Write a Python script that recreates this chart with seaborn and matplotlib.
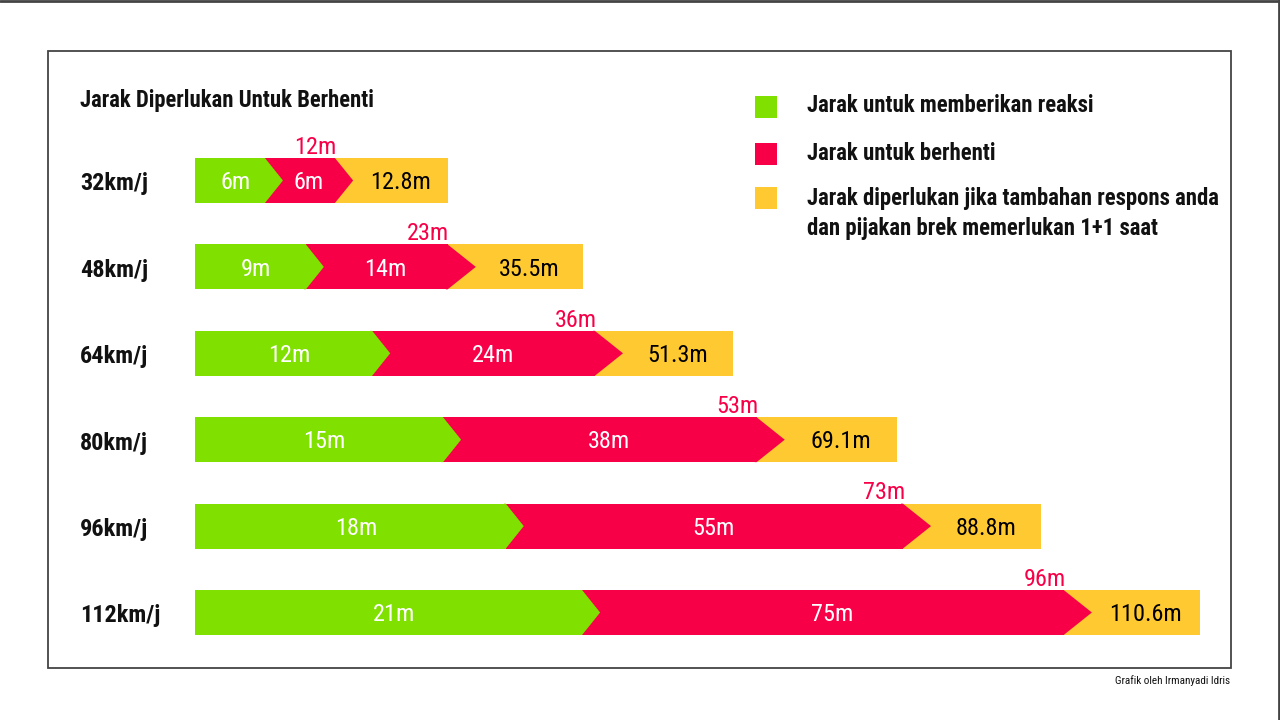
import matplotlib
matplotlib.use("Agg")
import matplotlib.pyplot as plt
import seaborn as sns
from matplotlib import font_manager
from matplotlib.patches import Rectangle
from matplotlib.lines import Line2D
from matplotlib.transforms import blended_transform_factory

# Data
speeds = ['32km/j', '48km/j', '64km/j', '80km/j', '96km/j', '112km/j']
reaction_m = [6, 9, 12, 15, 18, 21]
braking_m = [6, 14, 24, 38, 55, 75]
total_m = [12.8, 35.5, 51.3, 69.1, 88.8, 110.6]

# drawn segment lengths (the graphic is not drawn to scale)
green_len = [7.7, 12.2, 19.5, 27.3, 34.2, 42.6]
red_len = [7.7, 15.6, 24.5, 34.5, 43.7, 53.0]
yellow_len = [12.4, 14.9, 15.2, 15.5, 15.2, 15.0]

legend_labels = ['Jarak untuk memberikan reaksi',
                 'Jarak untuk berhenti',
                 'Jarak diperlukan jika tambahan respons anda',
                 'dan pijakan brek memerlukan 1+1 saat']

GREEN = '#80e000'
RED = '#f70048'
YELLOW = '#ffc932'

sns.set_style("white")
names = {f.name for f in font_manager.fontManager.ttflist}
font = 'DejaVu Sans'
for cand in ['Roboto Condensed', 'Liberation Sans Narrow', 'Open Sans Condensed']:
    if cand in names:
        font = cand
        break
plt.rcParams['font.family'] = [font, 'DejaVu Sans']

W, H = 1280, 720
fig = plt.figure(figsize=(12.8, 7.2), dpi=100, facecolor='white')
ax = fig.add_axes([195 / W, 1 - 655.7 / H, 1005 / W, (655.7 - 137.3) / H])

# cumulative ends of each segment
g_end = green_len
r_end = [g + r for g, r in zip(green_len, red_len)]
y_end = [r + y for r, y in zip(r_end, yellow_len)]

bar_h = 0.52
for ends, col in [(y_end, YELLOW), (r_end, RED), (g_end, GREEN)]:
    sns.barplot(x=ends, y=speeds, orient='h', color=col, saturation=1,
                width=bar_h, linewidth=0, ax=ax)

ax.set_xlim(0, max(y_end))
ax.set_ylim(len(speeds) - 0.5, -0.5)
ax.axis('off')

half = bar_h / 2
for i in range(len(speeds)):
    tg = 1.98
    tr = min(3.1, 0.26 * red_len[i])
    g, r, e = g_end[i], r_end[i], y_end[i]
    # arrow tips (start slightly inside the bar to avoid a seam)
    ax.fill([g - 0.2, g, g + tg, g, g - 0.2],
            [i - half, i - half, i, i + half, i + half], color=GREEN, lw=0)
    ax.fill([r - 0.2, r, r + tr, r, r - 0.2],
            [i - half, i - half, i, i + half, i + half], color=RED, lw=0)

    ty = i + 0.025
    ax.text(g / 2 + 0.6, ty, f'{reaction_m[i]}m', color='white',
            ha='center', va='center', fontsize=17.5)
    ax.text((g + r) / 2 + tg / 2, ty, f'{braking_m[i]}m', color='white',
            ha='center', va='center', fontsize=17.5)
    ax.text((r + e) / 2 + tr / 2, ty, f'{total_m[i]}m', color='black',
            ha='center', va='center', fontsize=17.5)
    stop = reaction_m[i] + braking_m[i]
    ax.text(r + 0.2, i - half - 0.05, f'{stop}m', color=RED,
            ha='right', va='baseline', fontsize=17.5)

trans = blended_transform_factory(fig.transFigure, ax.transData)
for i, s in enumerate(speeds):
    ax.text(80 / W, i + 0.04, s, transform=trans, ha='left', va='center',
            fontsize=17.5, fontweight='bold', color='#111111')

# title
fig.text(80 / W, 1 - 100 / H, 'Jarak Diperlukan Untuk Berhenti',
         ha='left', va='center', fontsize=16.3, fontweight='bold', color='#111111')

# legend
sq = [(107, GREEN), (153.5, RED), (197.5, YELLOW)]
for yc, col in sq:
    fig.add_artist(Rectangle((755 / W, 1 - (yc + 11) / H), 22 / W, 22 / H,
                             transform=fig.transFigure, color=col, lw=0))
for yc, lab in zip([106, 154, 199, 229], legend_labels):
    fig.text(807 / W, 1 - yc / H, lab, ha='left', va='center',
             fontsize=16.4, fontweight='bold', color='#111111')

# frames
fig.add_artist(Rectangle((48 / W, 1 - 668 / H), (1231 - 48) / W, (668 - 51) / H,
                         transform=fig.transFigure, fill=False,
                         ec='#444444', lw=1.3))
fig.add_artist(Line2D([0, 1], [1 - 1 / H, 1 - 1 / H], transform=fig.transFigure,
                      color='#444444', lw=2))
fig.add_artist(Line2D([1 - 1 / W, 1 - 1 / W], [0, 1], transform=fig.transFigure,
                      color='#444444', lw=2))

fig.text(1230 / W, 1 - 681 / H, 'Grafik oleh Irmanyadi Idris',
         ha='right', va='center', fontsize=8, color='#111111')

fig.savefig('out.png', dpi=100, facecolor='white')
